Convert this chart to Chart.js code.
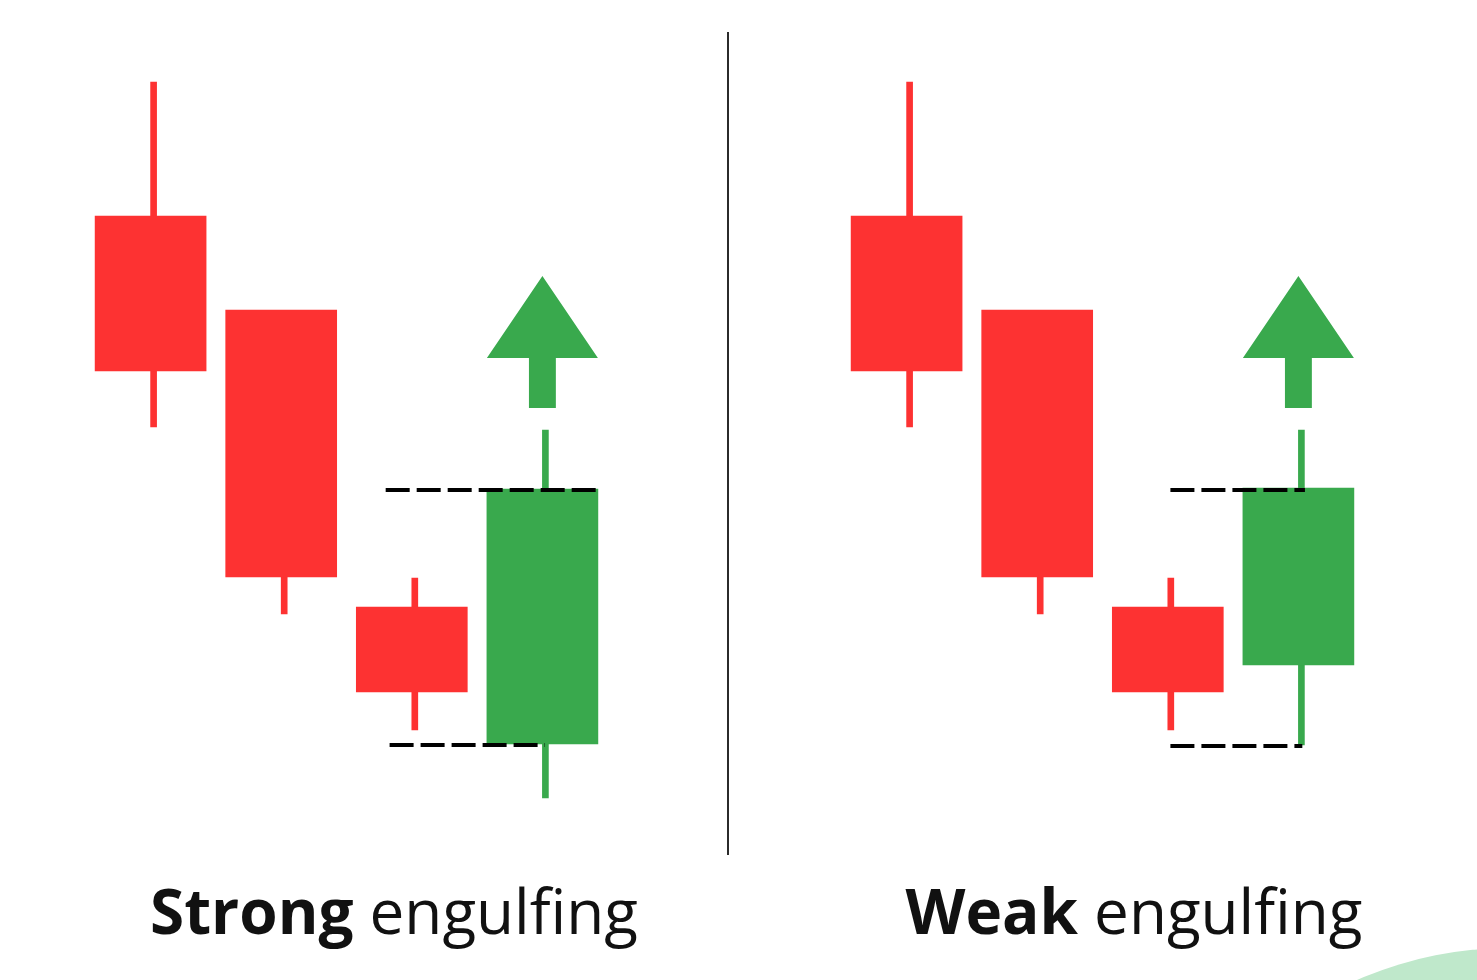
<!DOCTYPE html>
<html>
<head>
<meta charset="utf-8">
<script src="https://cdn.jsdelivr.net/npm/chart.js@4"></script>
<style>
  html, body { margin: 0; padding: 0; background: #fff; }
  body { width: 1477px; height: 980px; position: relative; overflow: hidden; }
  .panel { position: absolute; top: 0; }
  .divider { position: absolute; left: 727px; top: 32px; width: 2px; height: 823px; background: #2b2b2b; }
  .label { position: absolute; top: 879px; width: 700px; text-align: center;
           font-family: "Open Sans", "Noto Sans", sans-serif; font-size: 62px; line-height: 62px; color: #111; }
  .label b { font-weight: 700; }
  .blob { position: absolute; left: 1128px; top: 948px; width: 764px; height: 764px; border-radius: 50%; background: #bfe8cb; }
</style>
</head>
<body>
<div class="panel" style="left:20px"><canvas id="strong" width="653" height="860"></canvas></div>
<div class="panel" style="left:776px"><canvas id="weak" width="653" height="860"></canvas></div>
<div class="divider"></div>
<div class="label" style="left:44px"><b>Strong</b> engulfing</div>
<div class="label" style="left:784px"><b>Weak</b> engulfing</div>
<div class="blob"></div>

<script>
// positions des bougies (index) et prix
const candlePos = [1, 2, 3, 4];

const strongOpen  = [64.4, 55.0, 25.3, 11.6];
const strongClose = [48.9, 28.3, 16.8, 37.1];
const strongHigh  = [77.8, 54.8, 28.2, 43.0];
const strongLow   = [43.3, 24.6, 13.0, 6.2];

const weakOpen  = [64.4, 55.0, 25.3, 19.5];
const weakClose = [48.9, 28.3, 16.8, 37.2];
const weakHigh  = [77.8, 54.8, 28.2, 43.0];
const weakLow   = [43.3, 24.6, 13.0, 11.5];

// niveaux en pointillés : [x début, x fin, prix]
const strongTopLevel    = [2.80, 4.43, 37.0];
const strongBottomLevel = [2.83, 4.02, 11.5];
const weakTopLevel      = [3.02, 4.05, 37.0];
const weakBottomLevel   = [3.02, 4.03, 11.4];

// flèche haussière au-dessus de la dernière bougie
const arrowX = [3.575, 4.0, 4.425, 4.103, 4.103, 3.897, 3.897, 3.575];
const arrowY = [50.2, 58.4, 50.2, 50.2, 45.2, 45.2, 50.2, 50.2];

const RED = '#fd3232';
const GREEN = '#39a94d';

function levelData(level) {
    return [{x: level[0], y: level[2]}, {x: level[1], y: level[2]}];
}

function buildChart(id, open, close, high, low, topLevel, bottomLevel) {
    const colors = open.map((o, i) => close[i] > o ? GREEN : RED);
    const dash = {
        type: 'line',
        borderColor: '#000',
        borderWidth: 4,
        borderDash: [24, 7],
        pointRadius: 0,
        fill: false,
        order: 0
    };

    new Chart(document.getElementById(id), {
        type: 'bar',
        data: {
            datasets: [
                {
                    label: 'mèches',
                    xAxisID: 'xw',
                    data: candlePos.map((x, i) => ({x: x, y: [low[i], high[i]]})),
                    backgroundColor: colors,
                    barThickness: 6,
                    grouped: false,
                    order: 3
                },
                {
                    label: 'corps',
                    data: candlePos.map((x, i) => ({x: x, y: [open[i], close[i]]})),
                    backgroundColor: colors,
                    barThickness: 111,
                    grouped: false,
                    order: 2
                },
                {
                    type: 'line',
                    label: 'flèche',
                    data: arrowX.map((x, i) => ({x: x, y: arrowY[i]})),
                    backgroundColor: GREEN,
                    borderColor: GREEN,
                    borderWidth: 0,
                    pointRadius: 0,
                    tension: 0,
                    fill: 'shape',
                    order: 1
                },
                Object.assign({label: 'haut', data: levelData(topLevel)}, dash),
                Object.assign({label: 'bas', data: levelData(bottomLevel)}, dash)
            ]
        },
        options: {
            responsive: false,
            animation: false,
            layout: { padding: 0 },
            plugins: { legend: { display: false }, tooltip: { enabled: false } },
            scales: {
                x: { type: 'linear', min: 0, max: 5, offset: false, display: false },
                // les mèches sont légèrement décalées à droite du corps
                xw: { type: 'linear', axis: 'x', min: -0.023, max: 4.977, offset: false, display: false },
                y: { type: 'linear', min: 0, max: 86, display: false }
            }
        }
    });
}

buildChart('strong', strongOpen, strongClose, strongHigh, strongLow, strongTopLevel, strongBottomLevel);
buildChart('weak', weakOpen, weakClose, weakHigh, weakLow, weakTopLevel, weakBottomLevel);
</script>
</body>
</html>
